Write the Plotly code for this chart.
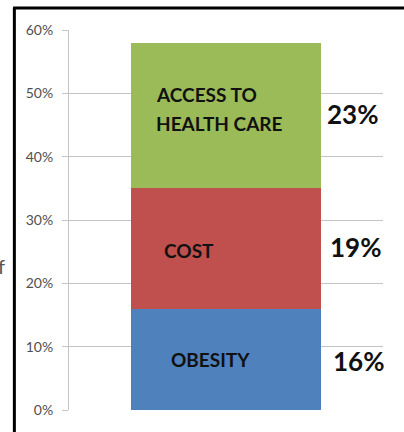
import plotly.graph_objects as go

categories = ["OBESITY", "COST", "ACCESS TO<br>HEALTH CARE"]
values = [16, 19, 23]
pct_labels = ["16%", "19%", "23%"]
colors = ["#4F81BD", "#C0504D", "#9BBB59"]
y_ticks = [0, 10, 20, 30, 40, 50, 60]
y_tick_labels = ["0%", "10%", "20%", "30%", "40%", "50%", "60%"]

FONT = "Lato, Open Sans, sans-serif"

fig = go.Figure()
for cat, v, c in zip(categories, values, colors):
    fig.add_trace(go.Bar(x=[0], y=[v], width=[1], marker=dict(color=c, line=dict(width=0)),
                         name=cat, showlegend=False, hoverinfo="skip"))

# label placement (layout only)
inbar_x = [-0.30, -0.336, -0.378]
inbar_dy = [0.0, -0.3, 1.0]
line_gap_px = 29
pct_x = [0.55, 0.535, 0.522]
pct_dy = [-0.3, 0.2, 0.2]

base = 0
for cat, v, ix, idy in zip(categories, values, inbar_x, inbar_dy):
    mid = base + v / 2 + idy
    lines = cat.split("<br>")
    n = len(lines)
    for k, ln in enumerate(lines):
        fig.add_annotation(x=ix, y=mid, xref="x", yref="y", text="<b>" + ln + "</b>",
                           showarrow=False, xanchor="left", yanchor="middle",
                           yshift=-(k - (n - 1) / 2) * line_gap_px,
                           font=dict(family=FONT, size=19, color="#111111"))
    base += v

base = 0
for lab, v, px, pdy in zip(pct_labels, values, pct_x, pct_dy):
    mid = base + v / 2 + pdy
    fig.add_annotation(x=px, y=mid, xref="x", yref="y", text="<b>" + lab + "</b>",
                       showarrow=False, xanchor="left", yanchor="middle",
                       font=dict(family=FONT, size=26, color="#111111"))
    base += v

# frame lines and cut-off text
fig.add_shape(type="line", xref="paper", yref="paper", x0=-0.174, x1=-0.174, y0=-0.07, y1=1.059,
              line=dict(color="black", width=3))
fig.add_shape(type="line", xref="paper", yref="paper", x0=-0.178, x1=1.08, y0=1.058, y1=1.058,
              line=dict(color="black", width=3))
fig.add_annotation(xref="paper", yref="paper", x=-0.197, y=0.380, text="f", showarrow=False,
                   xanchor="right", yanchor="middle",
                   font=dict(family=FONT, size=20, color="#555555"))

fig.update_layout(
    barmode="stack",
    width=404, height=432,
    margin=dict(l=69, r=21, t=30, b=22),
    paper_bgcolor="white", plot_bgcolor="white",
    bargap=0,
    xaxis=dict(range=[-0.826, 0.826], showticklabels=False, showgrid=False, zeroline=False,
               showline=False, fixedrange=True),
    yaxis=dict(range=[0, 60], tickvals=y_ticks, ticktext=y_tick_labels,
               showgrid=True, gridcolor="#C4C4C4", gridwidth=1, zeroline=False,
               showline=True, linecolor="#C4C4C4", linewidth=1,
               ticks="outside", ticklen=6, tickcolor="#C4C4C4",
               ticklabelstandoff=6, fixedrange=True,
               tickfont=dict(family=FONT, size=14, color="#505050")),
)

fig.write_html("out.html", config={"displayModeBar": False, "staticPlot": True},
               post_script="document.body.style.margin='0px';document.body.style.overflow='hidden';")
